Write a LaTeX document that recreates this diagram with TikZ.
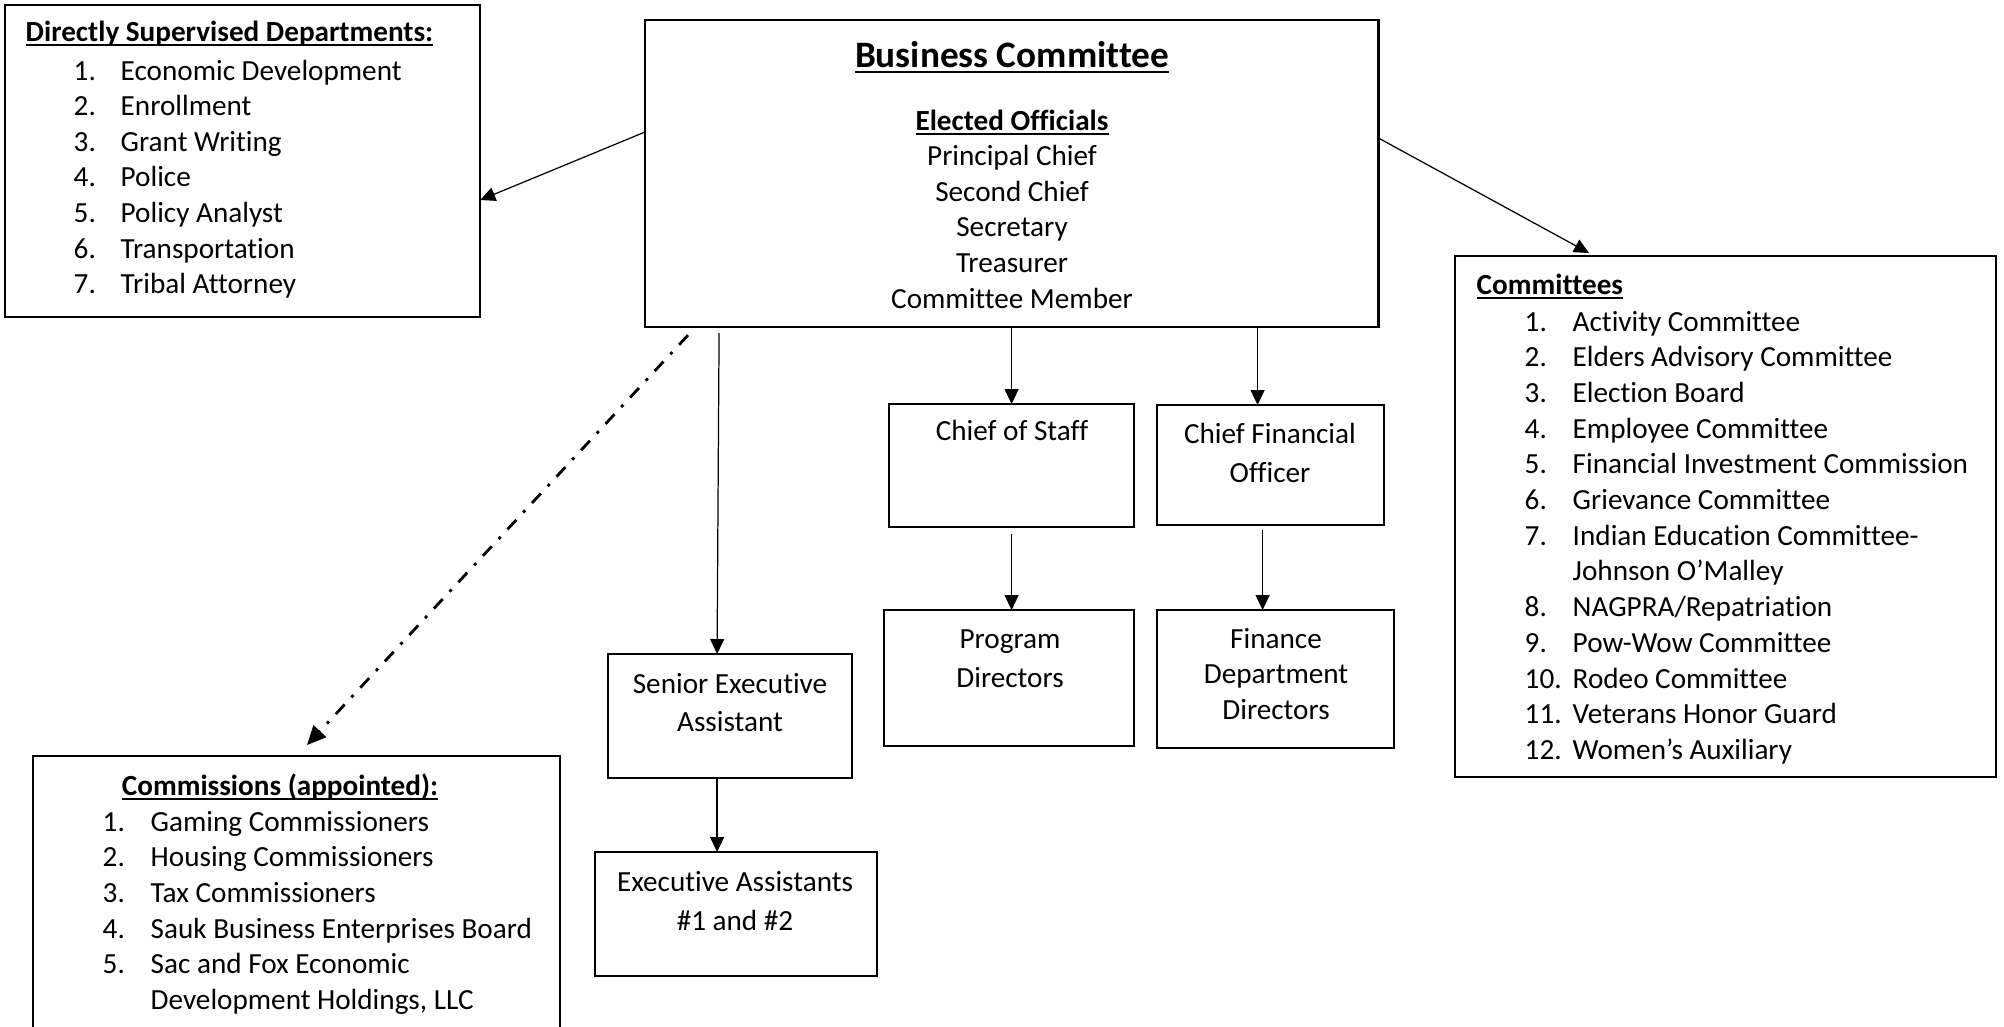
\documentclass[tikz,border=0pt]{standalone}
\usepackage{fontspec}
\setmainfont{Carlito}[Ligatures=NoCommon]
\usetikzlibrary{arrows.meta}

\newcommand{\undertext}[1]{\setbox0\hbox{#1}\rlap{\rule[-0.17em]{\wd0}{0.06em}}\box0}

\tikzset{
    box/.style={draw, line width=0.6pt, inner sep=0pt, outer sep=0pt, anchor=north west},
    txt/.style={inner sep=0pt, font=\fontsize{8.3}{10.1}\selectfont},
    conn/.style={line width=0.35pt, -{Triangle[length=0.15cm, width=0.14cm]}},
    dashdot/.style={line width=0.8pt, dash pattern=on 0.13cm off 0.10cm on 0.03cm off 0.10cm,
        -{Triangle[length=0.19cm, width=0.17cm]}},
}

\begin{document}
\begin{tikzpicture}[x=0.01cm, y=-0.01cm]
    \useasboundingbox (0,0) rectangle (2004,1026);
    \clip (0,0) rectangle (2004,1026);

    % Boxes
    \node[box, minimum width=4.75cm, minimum height=3.12cm] (dsd) at (5,5) {};
    \node[box, minimum width=7.33cm, minimum height=3.07cm] (bc) at (645,20) {};
    \node[box, minimum width=5.41cm, minimum height=5.21cm] (com) at (1455,256) {};
    \node[box, minimum width=2.45cm, minimum height=1.23cm] (cos) at (889,404) {};
    \node[box, minimum width=2.27cm, minimum height=1.20cm] (cfo) at (1157,405) {};
    \node[box, minimum width=2.50cm, minimum height=1.36cm] (pd) at (884,610) {};
    \node[box, minimum width=2.37cm, minimum height=1.38cm] (fdd) at (1157,610) {};
    \node[box, minimum width=2.44cm, minimum height=1.24cm] (sea) at (608,654) {};
    \node[box, minimum width=2.82cm, minimum height=1.24cm] (ea) at (595,852) {};
    \node[box, minimum width=5.27cm, minimum height=3.00cm] (cmn) at (33,756) {};

    % Business Committee
    \node[inner sep=0pt, anchor=base, font=\fontsize{10.6}{12.9}\selectfont\bfseries] (bc-title) at (1012,67)
        {\undertext{Business Committee}};
    \node[txt, anchor=base] (bc-sub) at (1012,130) {\undertext{\textbf{Elected Officials}}};
    \foreach \t [count=\i] in {Principal Chief, Second Chief, Secretary, Treasurer, Committee Member}
        \node[txt, anchor=base] (bc-\i) at (1012, {130+35.6*\i}) {\t};

    % Directly supervised departments
    \node[txt, anchor=base west] (dsd-title) at (25,41) {\undertext{\textbf{Directly Supervised Departments:}}};
    \foreach \t [count=\i] in {Economic Development, Enrollment, Grant Writing, Police,
            Policy Analyst, Transportation, Tribal Attorney}
        \node[txt, anchor=base west] (dsd-\i) at (73, {44.4+35.6*\i}) {\makebox[0.47cm][l]{\i.}\t};

    % Committees
    \node[txt, anchor=base west] (com-title) at (1476,294) {\undertext{\textbf{Committees}}};
    \foreach \s/\t [count=\i] in {1/Activity Committee, 2/Elders Advisory Committee, 3/Election Board,
            4/Employee Committee, 5/Financial Investment Commission, 6/Grievance Committee,
            7/Indian Education Committee-, 9/{NAGPRA/Repatriation}, 10/Pow-Wow Committee,
            11/Rodeo Committee, 12/Veterans Honor Guard, 13/Women’s Auxiliary}
        \node[txt, anchor=base west] (com-\i) at (1524, {295.3+35.7*\s}) {\makebox[0.48cm][l]{\i.}\t};
    \node[txt, anchor=base west] (com-7b) at (1572, {295.3+35.7*8}) {Johnson O’Malley};

    % Commissions
    \node[txt, anchor=base] (cmn-title) at (280,795) {\undertext{\textbf{Commissions (appointed):}}};
    \foreach \t [count=\i] in {Gaming Commissioners, Housing Commissioners, Tax Commissioners,
            Sauk Business Enterprises Board, Sac and Fox Economic}
        \node[txt, anchor=base west] (cmn-\i) at (102, {795.3+35.7*\i}) {\makebox[0.48cm][l]{\i.}\t};
    \node[txt, anchor=base west] (cmn-5b) at (150, {795.3+35.7*6}) {Development Holdings, LLC};

    % Staff boxes
    \node[txt, anchor=base] (cos-t) at (1012,440) {Chief of Staff};
    \node[txt, anchor=base] (cfo-t1) at (1270,443) {Chief Financial};
    \node[txt, anchor=base] (cfo-t2) at (1270,482) {Officer};
    \node[txt, anchor=base] (pd-t1) at (1010,648) {Program};
    \node[txt, anchor=base] (pd-t2) at (1010,687) {Directors};
    \node[txt, anchor=base] (fdd-t1) at (1276,648) {Finance};
    \node[txt, anchor=base] (fdd-t2) at (1276,683) {Department};
    \node[txt, anchor=base] (fdd-t3) at (1276,719) {Directors};
    \node[txt, anchor=base] (sea-t1) at (730,693) {Senior Executive};
    \node[txt, anchor=base] (sea-t2) at (730,731) {Assistant};
    \node[txt, anchor=base] (ea-t1) at (735,891) {Executive Assistants};
    \node[txt, anchor=base] (ea-t2) at (735,930) {\#1 and \#2};

    % Connectors
    \draw[conn] ([shift={(0,112)}]bc.north west) -- ([shift={(0,195)}]dsd.north east);
    \draw[conn] ([shift={(0,118)}]bc.north east) -- ([shift={(134,-3)}]com.north west);
    \draw[conn] (bc.south -| cos.north) -- (cos.north);
    \draw[conn] ([xshift=-0.13cm]bc.south -| cfo.north) -- ([xshift=-0.13cm]cfo.north);
    \draw[conn] ([shift={(0,7)}]cos.south) -- (pd.north -| cos.south);
    \draw[conn] ([shift={(-8,5)}]cfo.south) -- ([shift={(-8,0)}]fdd.north -| cfo.south);
    \draw[conn] ([shift={(-11,6)}]bc.south -| sea.north) -- ([shift={(-13,0)}]sea.north);
    \draw[conn] ([shift={(-13,0)}]sea.south) -- ([shift={(-13,0)}]sea.south |- ea.north);
    \draw[dashdot] ([shift={(43,8)}]bc.south west) -- ([shift={(274,-11)}]cmn.north west);
\end{tikzpicture}
\end{document}
